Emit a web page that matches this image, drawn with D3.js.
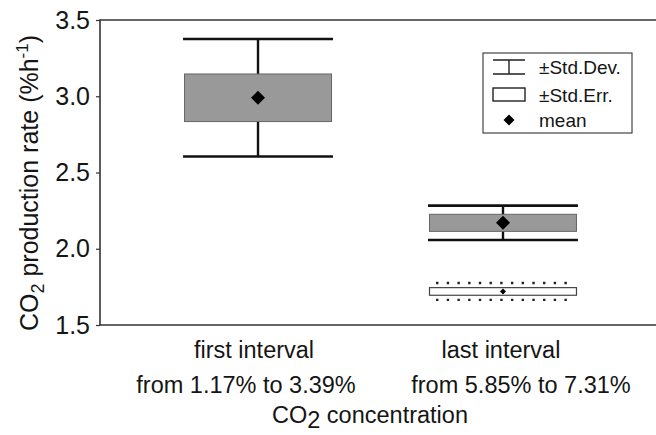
<!DOCTYPE html>
<html>
<head>
<meta charset="utf-8">
<script src="https://cdn.jsdelivr.net/npm/d3@7"></script>
<style>
  body { margin: 0; background: #fff; }
  svg { display: block; }
  text { font-family: "Liberation Sans", Arial, Helvetica, sans-serif; fill: #151515; }
</style>
</head>
<body>
<svg id="chart" width="656" height="435"></svg>
<script>
// Categories on the x axis and their concentration ranges
const categories = ["first interval", "last interval"];
const rangeLabels = ["from 1.17% to 3.39%", "from 5.85% to 7.31%"];
const yTicks = [1.5, 2.0, 2.5, 3.0, 3.5];

// Grey series: mean, standard deviation, standard error (% per hour)
const greyMean = [2.99, 2.17];
const greySD = [0.385, 0.113];
const greySE = [0.156, 0.056];

// White series: only measured in the last interval
const whiteMean = [null, 1.72];
const whiteSD = [null, 0.055];
const whiteSE = [null, 0.025];

const legendLabels = ["\u00B1Std.Dev.", "\u00B1Std.Err.", "mean"];

const svg = d3.select("#chart");
const plotLeft = 100, plotTop = 20, plotBottom = 325, plotRight = 661;

const x = d3.scaleBand().domain(categories).range([plotLeft, plotRight])
  .paddingInner(0).paddingOuter(0.145);
const y = d3.scaleLinear().domain([1.5, 3.5]).range([plotBottom, plotTop]);

const boxW = x.bandwidth() * 0.6;
const capW = x.bandwidth() * 0.612;
const cx = c => x(c) + x.bandwidth() / 2;

// Frame (open on the right edge)
svg.append("path")
  .attr("d", `M656,${plotTop}H${plotLeft}V${plotBottom}H656`)
  .attr("fill", "none").attr("stroke", "#333").attr("stroke-width", 1.6);

// Y axis
const yAxis = d3.axisLeft(y).tickValues(yTicks).tickFormat(d3.format(".1f"))
  .tickSize(4).tickPadding(6);
const gy = svg.append("g").attr("transform", `translate(${plotLeft},0)`).call(yAxis);
gy.select(".domain").remove();
gy.selectAll(".tick line").attr("stroke", "#333").attr("stroke-width", 1.2);
gy.selectAll(".tick text").attr("font-size", 25).attr("fill", "#151515")
  .attr("font-family", '"Liberation Sans", Arial, sans-serif');

// Grey boxes with SD whiskers
const grey = categories.map((c, i) => ({ c, m: greyMean[i], sd: greySD[i], se: greySE[i] }));
const gGrey = svg.append("g");
grey.forEach(d => {
  const X = cx(d.c);
  const g = gGrey.append("g");
  g.append("line").attr("x1", X).attr("x2", X)
    .attr("y1", y(d.m + d.sd)).attr("y2", y(d.m - d.sd))
    .attr("stroke", "#111").attr("stroke-width", 2.4);
  [d.m + d.sd, d.m - d.sd].forEach(v => {
    g.append("line").attr("x1", X - capW / 2).attr("x2", X + capW / 2)
      .attr("y1", y(v)).attr("y2", y(v))
      .attr("stroke", "#111").attr("stroke-width", 2.6);
  });
  g.append("rect").attr("x", X - boxW / 2).attr("width", boxW)
    .attr("y", y(d.m + d.se)).attr("height", y(d.m - d.se) - y(d.m + d.se))
    .attr("fill", "#999").attr("stroke", "#666").attr("stroke-width", 1);
  g.append("path").attr("transform", `translate(${X},${y(d.m)})`)
    .attr("d", "M0,-7L7,0L0,7L-7,0Z").attr("fill", "#000");
});

// White series with dotted SD whiskers
const white = categories.map((c, i) => ({ c, m: whiteMean[i], sd: whiteSD[i], se: whiteSE[i] }))
  .filter(d => d.m != null);
white.forEach(d => {
  const X = cx(d.c);
  const g = svg.append("g");
  [d.m + d.sd, d.m - d.sd].forEach(v => {
    g.append("line").attr("x1", X - capW / 2 + 8).attr("x2", X + capW / 2 - 10)
      .attr("y1", y(v)).attr("y2", y(v))
      .attr("stroke", "#222").attr("stroke-width", 2.4)
      .attr("stroke-dasharray", "2.4,8.3");
  });
  g.append("rect").attr("x", X - boxW / 2).attr("width", boxW)
    .attr("y", y(d.m + d.se)).attr("height", y(d.m - d.se) - y(d.m + d.se))
    .attr("fill", "#fff").attr("stroke", "#444").attr("stroke-width", 1.2);
  g.append("path").attr("transform", `translate(${X},${y(d.m)})`)
    .attr("d", "M0,-3L3,0L0,3L-3,0Z").attr("fill", "#000");
});

// X axis labels
const labelShift = [[-4, -12], [-2, 18]];
categories.forEach((c, i) => {
  svg.append("text").attr("x", cx(c) + labelShift[i][0]).attr("y", 358)
    .attr("text-anchor", "middle").attr("font-size", 23.5).text(c);
  svg.append("text").attr("x", cx(c) + labelShift[i][1]).attr("y", 393)
    .attr("text-anchor", "middle").attr("font-size", 23.5).text(rangeLabels[i]);
});

// X axis title
const xt = svg.append("text").attr("x", 370).attr("y", 423)
  .attr("text-anchor", "middle").attr("font-size", 23.5);
xt.append("tspan").text("CO");
xt.append("tspan").attr("dy", 5).text("2");
xt.append("tspan").attr("dy", -5).text(" concentration");

// Y axis title
const yt = svg.append("text")
  .attr("transform", "translate(38,183) rotate(-90)")
  .attr("text-anchor", "middle").attr("font-size", 25);
yt.append("tspan").text("CO");
yt.append("tspan").attr("dy", 6).attr("font-size", 18).text("2");
yt.append("tspan").attr("dy", -6).text(" production rate (%h");
yt.append("tspan").attr("dy", -10).attr("font-size", 17).text("-1");
yt.append("tspan").attr("dy", 10).text(")");

// Legend
const lg = svg.append("g");
lg.append("rect").attr("x", 483).attr("y", 53).attr("width", 149).attr("height", 80)
  .attr("fill", "#fff").attr("stroke", "#444").attr("stroke-width", 1.2);
const rowY = [67, 94.5, 120];
// SD symbol
lg.append("path").attr("d", `M493,${rowY[0] - 7}H525M493,${rowY[0] + 7}H525M509,${rowY[0] - 7}V${rowY[0] + 7}`)
  .attr("fill", "none").attr("stroke", "#222").attr("stroke-width", 1.4);
// SE symbol
lg.append("rect").attr("x", 493).attr("y", rowY[1] - 6.5).attr("width", 32).attr("height", 13)
  .attr("fill", "#fff").attr("stroke", "#222").attr("stroke-width", 1.4);
// mean symbol
lg.append("path").attr("transform", `translate(509,${rowY[2]})`)
  .attr("d", "M0,-5.5L5.5,0L0,5.5L-5.5,0Z").attr("fill", "#000");
legendLabels.forEach((t, i) => {
  lg.append("text").attr("x", 539).attr("y", rowY[i] + 7)
    .attr("font-size", 19).text(t);
});
</script>
</body>
</html>
